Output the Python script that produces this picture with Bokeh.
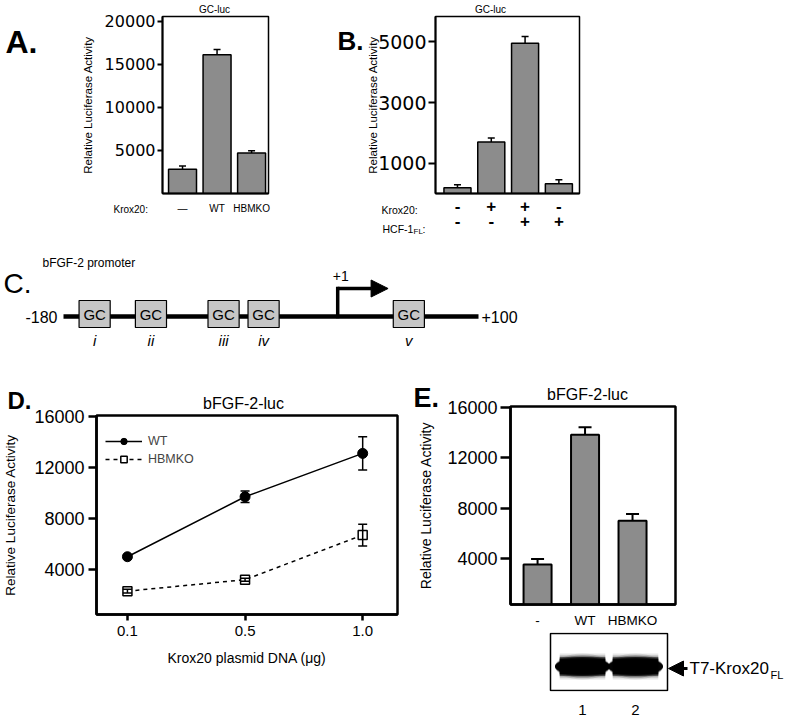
from bokeh.plotting import figure
from bokeh.models import (ColumnDataSource, Range1d, FixedTicker, Label, LinearAxis,
                          Legend, LegendItem, Arrow, NormalHead, GridBox)
from bokeh.layouts import column, row
from bokeh.embed import file_html
from bokeh.resources import INLINE
from bokeh.core.properties import value

FONT = "Liberation Sans"
TFONT = "DejaVu Sans"
BAR_FILL = "#8c8c8c"

# ---------------- Panel A data ----------------
a_labels = ["\u2014", "WT", "HBMKO"]
a_values = [2800, 16100, 4700]
a_errors = [400, 600, 250]
a_yticks = [5000, 10000, 15000, 20000]

# ---------------- Panel B data ----------------
b_krox = ["-", "+", "+", "-"]
b_hcf = ["-", "-", "+", "+"]
b_values = [190, 1700, 4960, 320]
b_errors = [100, 130, 220, 130]
b_yticks = [1000, 3000, 5000]

# ---------------- Panel C data ----------------
c_start, c_end = -180, 100
c_sites = [-159, -121, -72, -45, 53]
c_site_names = ["i", "ii", "iii", "iv", "v"]
c_tss = 5          # drawn position of the +1 start arrow

# ---------------- Panel D data ----------------
d_dna = ["0.1", "0.5", "1.0"]
d_wt = [5000, 9700, 13100]
d_wt_err = [150, 450, 1300]
d_hb = [2300, 3200, 6700]
d_hb_err = [150, 120, 850]
d_yticks = [4000, 8000, 12000, 16000]

# ---------------- Panel E data ----------------
e_labels = ["-", "WT", "HBMKO"]
e_values = [3500, 13850, 7000]
e_errors = [450, 600, 530]
e_yticks = [4000, 8000, 12000, 16000]
e_lanes = [1, 2]
e_band = [1.0, 0.95]


def make_fig(w, h, l, r, t, b, xr, yr, axes=True):
    kw = {}
    if not axes:
        kw = dict(x_axis_type=None, y_axis_type=None)
    p = figure(width=w, height=h, x_range=xr, y_range=yr, output_backend="svg",
               toolbar_location=None, min_border_left=l, min_border_right=r,
               min_border_top=t, min_border_bottom=b, **kw)
    p.grid.visible = False
    p.background_fill_color = "white"
    p.border_fill_color = "white"
    p.outline_line_color = None
    return p


def style_axis(ax, font, size, lw, tick_out, standoff, ticks=None, overrides=None):
    ax.axis_line_color = "black"
    ax.axis_line_width = lw
    ax.major_tick_line_color = "black"
    ax.major_tick_line_width = lw
    ax.major_tick_out = tick_out
    ax.major_tick_in = 0
    ax.minor_tick_out = 0
    ax.minor_tick_in = 0
    ax.major_label_text_font = font
    ax.major_label_text_font_size = size
    ax.major_label_text_color = "black"
    ax.major_label_standoff = standoff
    if ticks is not None:
        ax.ticker = FixedTicker(ticks=ticks)
    if overrides is not None:
        ax.major_label_overrides = overrides


def axis_title(ax, text, size, standoff):
    ax.axis_label = text
    ax.axis_label_text_font = FONT
    ax.axis_label_text_font_size = size
    ax.axis_label_text_font_style = "normal"
    ax.axis_label_text_color = "black"
    ax.axis_label_standoff = standoff


def bars(p, xs, vals, errs, width, lw, cap):
    src = ColumnDataSource(dict(x=xs, top=vals, et=[v + e for v, e in zip(vals, errs)]))
    p.segment(x0="x", y0="top", x1="x", y1="et", source=src, line_color="black", line_width=lw)
    p.scatter(x="x", y="et", marker="dash", size=cap, line_color="black", line_width=lw, source=src)
    p.vbar(x="x", top="top", bottom=0, width=width, source=src, fill_color=BAR_FILL,
           line_color="black", line_width=lw)


# ================= Panel A =================
pA = make_fig(300, 245, 162, 32, 16, 52, Range1d(-0.58, 2.49), Range1d(0, 20540))
xa = list(range(len(a_labels)))
bars(pA, xa, a_values, a_errors, 0.81, 1.5, 7)
style_axis(pA.yaxis[0], TFONT, "16px", 2, 5, 2, ticks=a_yticks)
axis_title(pA.yaxis[0], "Relative Luciferase Activity", "11.5px", 8)
style_axis(pA.xaxis[0], FONT, "10px", 2, 0, 9, ticks=xa,
           overrides={i: t for i, t in enumerate(a_labels)})
pA.outline_line_color = "black"
pA.outline_line_width = 1.5

# ================= Panel B =================
pB = make_fig(320, 245, 135, 41, 16, 52, Range1d(-0.65, 3.61), Range1d(0, 5840))
xb = list(range(len(b_values)))
bars(pB, xb, b_values, b_errors, 0.8, 1.5, 7)
style_axis(pB.yaxis[0], TFONT, "19px", 2, 7, 2, ticks=b_yticks)
axis_title(pB.yaxis[0], "Relative Luciferase Activity", "11.5px", -4)
style_axis(pB.xaxis[0], FONT, "17px", 2, 0, 6, ticks=xb,
           overrides={i: t for i, t in enumerate(b_krox)})
pB.xaxis[0].major_label_text_font_style = "bold"
axB2 = LinearAxis()
pB.add_layout(axB2, "below")
style_axis(axB2, FONT, "17px", 2, 0, 0, ticks=xb,
           overrides={i: t for i, t in enumerate(b_hcf)})
axB2.axis_line_alpha = 0
axB2.major_label_text_font_style = "bold"
pB.outline_line_color = "black"
pB.outline_line_width = 1.5

# ================= Panel C =================
kpx = 415 / (c_end - c_start)
cx0 = c_start - 63 / kpx
pC = make_fig(795, 130, 0, 0, 0, 0, Range1d(cx0, cx0 + 795 / kpx), Range1d(-59, 71), axes=False)
pC.segment(x0=[c_start], y0=[0], x1=[c_end], y1=[0], line_width=4.5, line_color="black")
pC.line(x=[c_tss, c_tss], y=[0, 28], line_width=3.5, line_color="black", line_cap="square")
pC.add_layout(Arrow(x_start=c_tss, y_start=28, x_end=c_tss + 34, y_end=28,
                    line_width=3.5, line_color="black",
                    end=NormalHead(size=17, fill_color="black", line_color="black")))
pC.rect(x=c_sites, y=2.5, width=21, height=27, fill_color="#c6c6c6",
        line_color="black", line_width=1.2)
pC.text(x=c_sites, y=2.5, text=["GC"] * len(c_sites), text_font=value(FONT),
        text_font_size="15px", text_align="center", text_baseline="middle", text_color="black")
pC.text(x=c_sites, y=-24, text=c_site_names, text_font=value(FONT), text_font_size="15px",
        text_font_style="italic", text_align="center", text_baseline="middle", text_color="black")
pC.text(x=[c_start], y=[0], text=[f"{c_start}"], x_offset=-6, text_font=value(FONT),
        text_font_size="16px", text_align="right", text_baseline="middle", text_color="black")
pC.text(x=[c_end], y=[0], text=[f"+{c_end}"], x_offset=3, text_font=value(FONT),
        text_font_size="16px", text_align="left", text_baseline="middle", text_color="black")
pC.text(x=[c_tss], y=[41], text=["+1"], x_offset=3, text_font=value(FONT),
        text_font_size="14px", text_align="center", text_baseline="middle", text_color="black")
pC.add_layout(Label(x=3, y=92, x_units="screen", y_units="screen", text="C.",
                    text_font=FONT, text_font_size="28px", text_baseline="alphabetic",
                    text_color="black"))
pC.add_layout(Label(x=42, y=113, x_units="screen", y_units="screen", text="bFGF-2 promoter",
                    text_font=FONT, text_font_size="12px", text_baseline="middle",
                    text_color="black"))

# ================= Panel D =================
pD = make_fig(405, 347, 86, 8, 40, 108, Range1d(-0.263, 2.296), Range1d(470, 16072))
xd = list(range(len(d_dna)))
r_wl = pD.line(xd, d_wt, line_width=1.5, line_color="black")
r_wp = pD.scatter(xd, d_wt, marker="circle", size=10, fill_color="black", line_color="black")
r_hl = pD.line(xd, d_hb, line_width=1.5, line_color="black", line_dash="4 4")
r_hp = pD.scatter(xd, d_hb, marker="square", size=9, fill_color="white", line_color="black",
                  line_width=1.5)
for vals, errs in [(d_wt, d_wt_err), (d_hb, d_hb_err)]:
    src = ColumnDataSource(dict(x=xd, lo=[v - e for v, e in zip(vals, errs)],
                                hi=[v + e for v, e in zip(vals, errs)]))
    pD.segment(x0="x", y0="lo", x1="x", y1="hi", source=src, line_color="black", line_width=1.5)
    pD.scatter(x="x", y="lo", marker="dash", size=9, line_color="black", line_width=1.5, source=src)
    pD.scatter(x="x", y="hi", marker="dash", size=9, line_color="black", line_width=1.5, source=src)
style_axis(pD.yaxis[0], FONT, "18px", 2.5, 8, 4, ticks=d_yticks)
axis_title(pD.yaxis[0], "Relative Luciferase Activity", "13.5px", 13)
style_axis(pD.xaxis[0], FONT, "15px", 2.5, 6, 5, ticks=xd,
           overrides={i: t for i, t in enumerate(d_dna)})
axis_title(pD.xaxis[0], "Krox20 plasmid DNA (\u03bcg)", "14px", 11)
pD.outline_line_color = "black"
pD.outline_line_width = 2.5
leg = Legend(items=[LegendItem(label="WT", renderers=[r_wl, r_wp]),
                    LegendItem(label="HBMKO", renderers=[r_hl, r_hp])],
             location=(1, 139), margin=0, padding=8, spacing=2,
             glyph_width=37, glyph_height=16, label_height=16, label_standoff=6,
             label_text_font=FONT, label_text_font_size="12.5px",
             border_line_alpha=0, background_fill_alpha=0)
pD.add_layout(leg)

# ================= Panel E =================
pE = make_fig(390, 255, 105, 120, 31, 24, Range1d(-0.57, 2.905), Range1d(316, 16104))
xe = list(range(len(e_labels)))
bars(pE, xe, e_values, e_errors, 0.59, 2, 13)
style_axis(pE.yaxis[0], FONT, "18px", 2.5, 10, 3, ticks=e_yticks)
axis_title(pE.yaxis[0], "Relative Luciferase Activity", "14px", 10)
style_axis(pE.xaxis[0], FONT, "13.5px", 2.5, 0, 8, ticks=xe,
           overrides={i: t for i, t in enumerate(e_labels)})
pE.outline_line_color = "black"
pE.outline_line_width = 2.5

# ================= Western blot (same frame columns as E) =================
lane_px = 53.0
bx0 = e_lanes[0] - (582 - 510) / lane_px
pW = make_fig(390, 92, 105, 120, 2, 31, Range1d(bx0, bx0 + 165 / lane_px), Range1d(-1, 58))
pW.yaxis.visible = False
style_axis(pW.xaxis[0], FONT, "15px", 0, 0, 13, ticks=e_lanes,
           overrides={v: str(v) for v in e_lanes})
pW.xaxis[0].axis_line_alpha = 0
half = 32 / lane_px
pW.quad(left=[min(e_lanes) - half], right=[max(e_lanes) + half], bottom=[0], top=[57],
        fill_color="white", line_color="black", line_width=1.5)
for h, a in [(26, 0.10), (22, 0.25), (19, 0.55), (16, 1.0)]:
    pW.rect(x=e_lanes, y=24, width=0.86, height=h, fill_color="black",
            fill_alpha=[a * b for b in e_band], line_color=None)
    pW.ellipse(x=e_lanes, y=24, width=1.04, height=h, fill_color="black",
               fill_alpha=[a * b for b in e_band], line_color=None)

# ================= Overlay for free-standing texts =================
OW, OH = 795, 722
ov = figure(width=OW, height=OH, x_range=Range1d(0, OW), y_range=Range1d(OH, 0),
            x_axis_type=None, y_axis_type=None, output_backend="svg", toolbar_location=None,
            min_border_left=0, min_border_right=0, min_border_top=0, min_border_bottom=0)
ov.background_fill_color = None
ov.border_fill_color = None
ov.outline_line_color = None


def otext(x, y, t, size, bold=False, align="left", baseline="middle"):
    ov.text(x=[x], y=[y], text=[t], text_font=value(FONT), text_font_size=size,
            text_font_style="bold" if bold else "normal", text_align=align,
            text_baseline=baseline, text_color="black")


otext(5, 41, "A.", "32px", bold=True, baseline="alphabetic")
otext(214, 9, "GC-luc", "10px", align="center")
otext(113, 209, "Krox20:", "10px")
otext(337, 40, "B.", "26px", bold=True, baseline="alphabetic")
otext(490, 9, "GC-luc", "10px", align="center")
otext(381, 209, "Krox20:", "10.5px")
otext(382, 228, "HCF-1", "10.5px")
otext(413, 231, "FL", "8px")
otext(422, 228, ":", "10.5px")
otext(7, 400, "D.", "24px", bold=True, baseline="alphabetic")
otext(243, 403, "bFGF-2-luc", "16px", align="center")
otext(413, 397, "E.", "27px", bold=True, baseline="alphabetic")
otext(587, 394, "bFGF-2-luc", "16px", align="center")
ov.add_layout(Arrow(x_start=687, y_start=668, x_end=668, y_end=668, line_width=3,
                    line_color="black",
                    end=NormalHead(size=15, fill_color="black", line_color="black")))
otext(689, 668, "T7-Krox20", "17px")
otext(770, 674, "FL", "11px")

main = column(row(pA, pB), pC, row(pD, column(pE, pW)))
page = GridBox(children=[(main, 0, 0), (ov, 0, 0)])
open("out.html", "w").write(file_html(page, INLINE, title="Krox20 figure"))
